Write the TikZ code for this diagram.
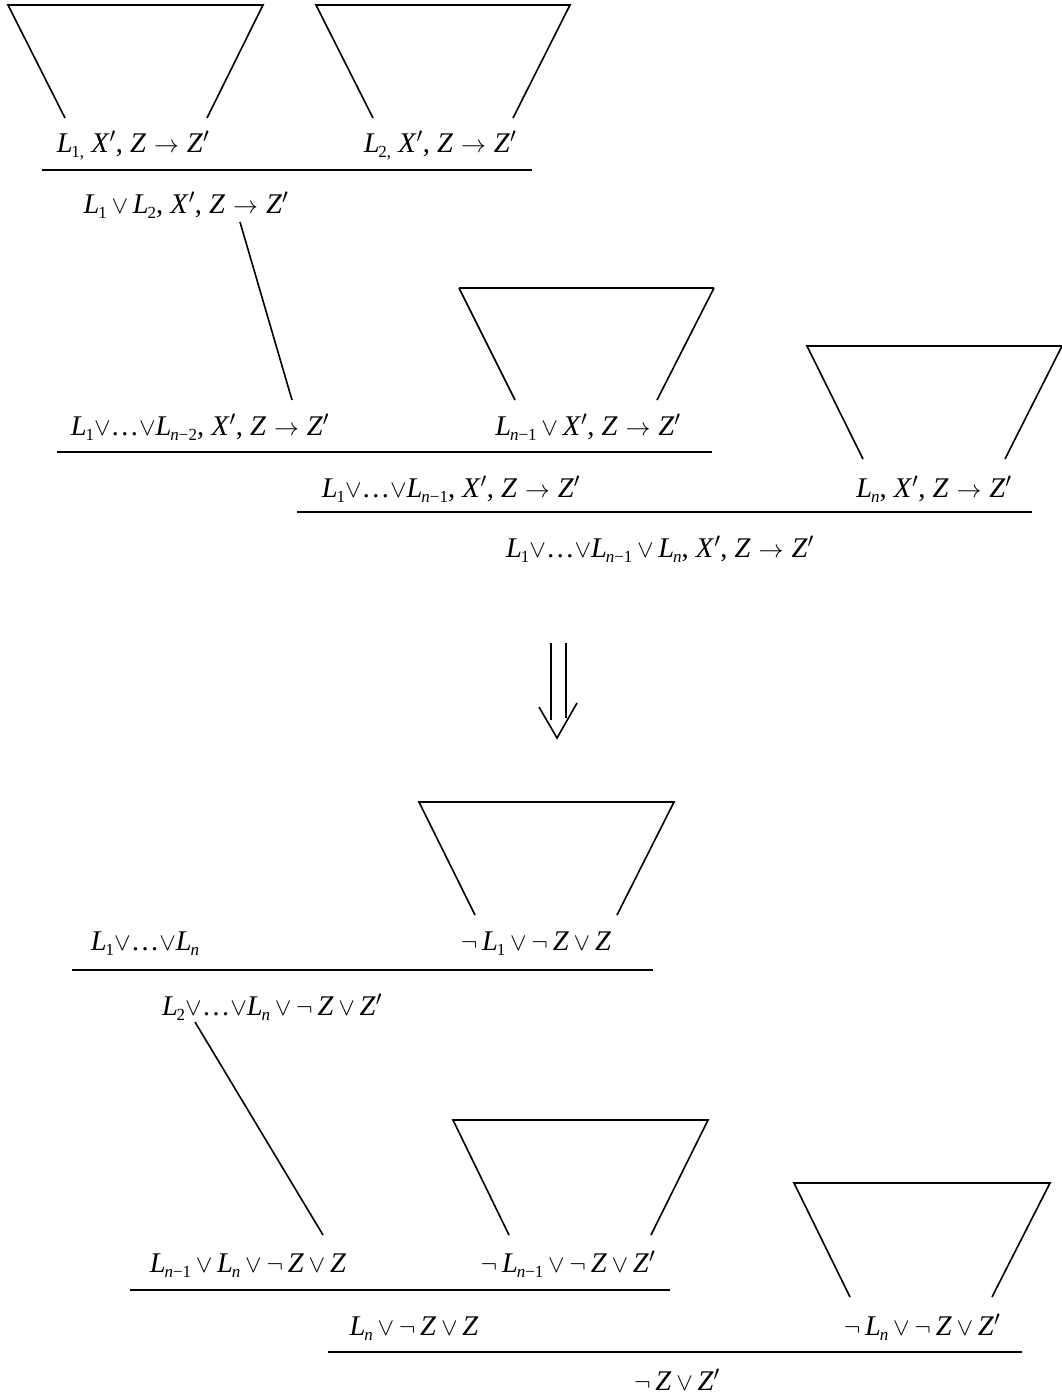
\documentclass[tikz,border=0pt]{standalone}
\usepackage{fontspec}
\setmainfont{Liberation Serif}
\newcommand\sbx[1]{\raisebox{-0.42ex}{\fontsize{17}{17}\selectfont #1}}
\newcommand\Li[1]{\textit{L}\kern-0.04em\sbx{#1}}
\newcommand\Vo{\,$\vee$\,}
\newcommand\Vt{$\vee$}
\newcommand\Ng{$\neg$\,}
\newcommand\Ar{\;$\rightarrow$\;}
\newcommand\Zp{\textit{Z}$'$}
\newcommand\Xp{\textit{X}$'$}
\newcommand\nm[1]{\textit{n}−#1}
\begin{document}
\begin{tikzpicture}[x=1pt,y=-1pt,
  lbl/.style={anchor=base,inner sep=0pt,font=\fontsize{28.5}{32}\selectfont},
  rule/.style={line width=2pt},
  subproof/.style={line width=1.6pt}]
\useasboundingbox (0,0) rectangle (1062,1395);
% ---- top part ----
\draw[subproof] (65,118) -- (8,5) -- (263,5) -- (207,118);
\draw[subproof] (373,118) -- (316,5) -- (570,5) -- (513,118);
\node[lbl] (t1) at (133,152) {\Li{1,} \Xp, \textit{Z}\Ar\Zp};
\node[lbl] (t2) at (440,152) {\Li{2,} \Xp, \textit{Z}\Ar\Zp};
\draw[rule] (42,170) -- (532,170);
\node[lbl] (t3) at (186,213) {\Li{1}\Vo\Li{2}, \Xp, \textit{Z}\Ar\Zp};
\draw[subproof] (459,288) -- (714,288);
\draw[subproof] (515,400) -- (459,288);
\draw[subproof] (657,400) -- (714,288);
\draw[subproof] (863,459) -- (807,346) -- (1062,346) -- (1005,459);
\node[lbl] (t4) at (200,435) {\Li{1}\Vt\ldots\Vt\Li{\nm{2}}, \Xp, \textit{Z}\Ar\Zp};
\node[lbl] (t5) at (588,435) {\Li{\nm{1}}\Vo\Xp, \textit{Z}\Ar\Zp};
\coordinate (c3) at (240,222);
\coordinate (c4) at (292,400);
\draw[subproof] (c3) -- (c4);
\draw[rule] (57,452) -- (712,452);
\node[lbl] (t6) at (451,497) {\Li{1}\Vt\ldots\Vt\Li{\nm{1}}, \Xp, \textit{Z}\Ar\Zp};
\node[lbl] (t7) at (934,497) {\Li{\textit{n}}, \Xp, \textit{Z}\Ar\Zp};
\draw[rule] (297,512) -- (1032,512);
\node[lbl] (t8) at (660,557) {\Li{1}\Vt\ldots\Vt\Li{\nm{1}}\Vo\Li{\textit{n}}, \Xp, \textit{Z}\Ar\Zp};
% ---- double arrow ----
\draw[subproof] (551,643) -- (551,720);
\draw[subproof] (566,643) -- (566,718);
\draw[subproof] (539,707) -- (557,738) -- (577,703);
% ---- bottom part ----
\draw[subproof] (475,915) -- (419,802) -- (674,802) -- (617,915);
\node[lbl] (b1) at (145,950) {\Li{1}\Vt\ldots\Vt\Li{\textit{n}}};
\node[lbl] (b2) at (536,950) {\Ng\Li{1}\Vo\Ng\textit{Z}\Vo\textit{Z}};
\draw[rule] (72,970) -- (653,970);
\node[lbl] (b3) at (272,1015) {\Li{2}\Vt\ldots\Vt\Li{\textit{n}}\Vo\Ng\textit{Z}\Vo\Zp};
\coordinate (d1) at (195,1022);
\coordinate (d2) at (323,1235);
\draw[subproof] (d1) -- (d2);
\draw[subproof] (509,1235) -- (453,1120) -- (708,1120) -- (651,1235);
\draw[subproof] (850,1297) -- (794,1183) -- (1050,1183) -- (992,1297);
\node[lbl] (b4) at (248,1272) {\Li{\nm{1}}\Vo\Li{\textit{n}}\Vo\Ng\textit{Z}\Vo\textit{Z}};
\node[lbl] (b5) at (568,1272) {\Ng\Li{\nm{1}}\Vo\Ng\textit{Z}\Vo\Zp};
\draw[rule] (130,1290) -- (670,1290);
\node[lbl] (b6) at (414,1335) {\Li{\textit{n}}\Vo\Ng\textit{Z}\Vo\textit{Z}};
\node[lbl] (b7) at (922,1335) {\Ng\Li{\textit{n}}\Vo\Ng\textit{Z}\Vo\Zp};
\draw[rule] (328,1352) -- (1022,1352);
\node[lbl] (b8) at (677,1390) {\Ng\textit{Z}\Vo\Zp};
\end{tikzpicture}
\end{document}
